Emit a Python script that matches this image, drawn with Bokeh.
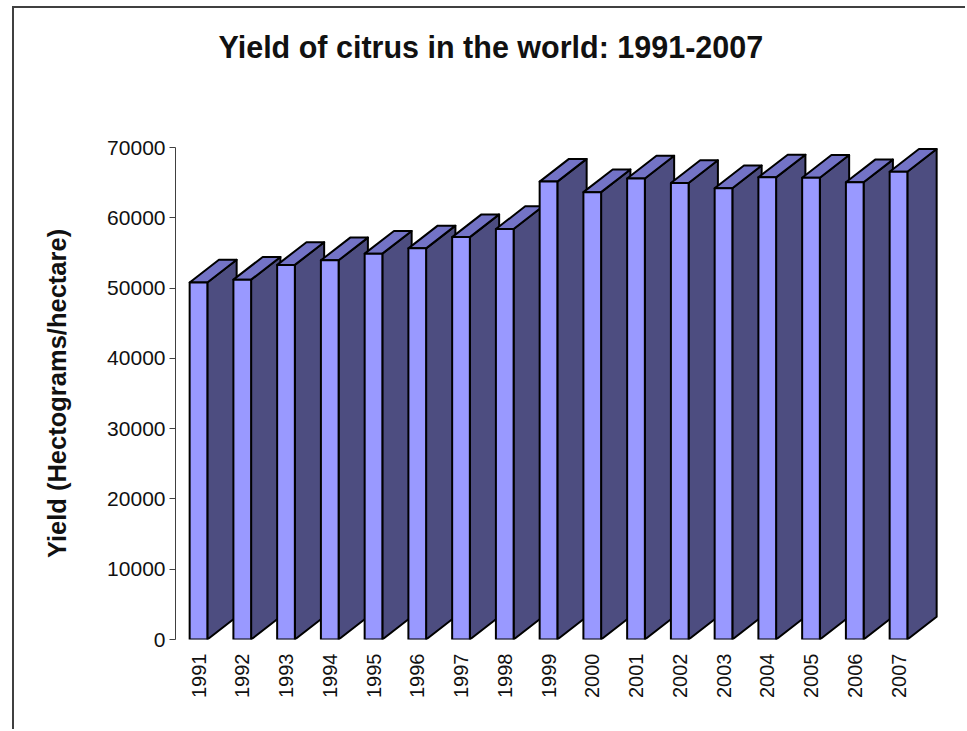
import math
from bokeh.plotting import figure
from bokeh.models import Range1d, FixedTicker, BasicTickFormatter, Title
from bokeh.embed import file_html
from bokeh.resources import INLINE

# ---------------- data ----------------
years = ["1991", "1992", "1993", "1994", "1995", "1996", "1997", "1998", "1999",
         "2000", "2001", "2002", "2003", "2004", "2005", "2006", "2007"]
yields = [50800, 51200, 53300, 53950, 54900, 55650, 57250, 58400, 65150,
          63650, 65600, 64950, 64200, 65750, 65700, 65050, 66550]
y_ticks = [0, 10000, 20000, 30000, 40000, 50000, 60000, 70000]
title_text = "Yield of citrus in the world: 1991-2007"
y_label = "Yield (Hectograms/hectare)"

# ---------------- layout (pixels) ----------------
OFF_L, OFF_T = 12, 6
FIG_W, FIG_H = 967 - OFF_L - 2, 731 - OFF_T - 2
B_LEFT, B_RIGHT, B_TOP, B_BOTTOM = 161, 0, 139, 92
FRAME_W = FIG_W - B_LEFT - B_RIGHT
FRAME_H = FIG_H - B_TOP - B_BOTTOM
PX_PER_CAT = 43.75
PX_PER_Y = FRAME_H / 70000.0
FIRST_CENTER_PX = 23.0

x_start = -FIRST_CENTER_PX / PX_PER_CAT
x_end = x_start + FRAME_W / PX_PER_CAT

HALF_W = 8.85 / PX_PER_CAT
DX = 29.3 / PX_PER_CAT
DY = 22.7 / PX_PER_Y

FRONT = "#9999ff"
SIDE = "#4d4d80"
TOP = "#7373c6"
EDGE = "#000000"

xs = list(range(len(years)))
side_xs, side_ys, top_xs, top_ys = [], [], [], []
lefts, rights = [], []
for x, v in zip(xs, yields):
    x0, x1 = x - HALF_W, x + HALF_W
    lefts.append(x0)
    rights.append(x1)
    side_xs.append([x1, x1 + DX, x1 + DX, x1])
    side_ys.append([0, DY, v + DY, v])
    top_xs.append([x0, x1, x1 + DX, x0 + DX])
    top_ys.append([v, v, v + DY, v + DY])

p = figure(width=FIG_W, height=FIG_H,
           x_range=Range1d(x_start, x_end), y_range=Range1d(0, 70000),
           output_backend="svg", toolbar_location=None,
           min_border_left=B_LEFT, min_border_right=B_RIGHT,
           min_border_top=B_TOP, min_border_bottom=B_BOTTOM)
p.styles = {"margin-left": f"{OFF_L}px", "margin-top": f"{OFF_T}px",
            "border-left": "2px solid #404040", "border-top": "2px solid #404040"}
p.outline_line_color = None
p.xgrid.visible = False
p.ygrid.visible = False
p.background_fill_color = "white"
p.border_fill_color = "white"

# spacer between frame and title (added first -> closest to the frame)
p.add_layout(Title(text=" ", text_font_size="1px", standoff=76), "above")
# real title
p.add_layout(Title(text=title_text, align="left", offset=43, standoff=10,
                   text_font="Liberation Sans", text_font_style="bold",
                   text_font_size="30.5px", text_color="#111111"), "above")

for i in range(len(years)):
    p.patches(xs=[side_xs[i]], ys=[side_ys[i]], fill_color=SIDE, line_color=EDGE, line_width=2, line_join="round")
    p.patches(xs=[top_xs[i]], ys=[top_ys[i]], fill_color=TOP, line_color=EDGE, line_width=2, line_join="round")
    p.quad(left=[lefts[i]], right=[rights[i]], top=[yields[i]], bottom=[0],
           fill_color=FRONT, line_color=EDGE, line_width=2, line_join="round")

# y axis
ya = p.yaxis[0]
ya.ticker = FixedTicker(ticks=y_ticks)
ya.formatter = BasicTickFormatter(use_scientific=False)
ya.bounds = (0, 70000)
ya.axis_line_color = "#404040"
ya.major_tick_line_color = "#404040"
ya.major_tick_out = 6
ya.major_tick_in = 0
ya.minor_tick_line_color = None
ya.major_label_text_font = "Liberation Sans"
ya.major_label_text_font_size = "21px"
ya.major_label_text_color = "#111111"
ya.major_label_standoff = 4
ya.axis_label = y_label
ya.axis_label_text_font = "Liberation Sans"
ya.axis_label_text_font_style = "bold"
ya.axis_label_text_font_size = "25.5px"
ya.axis_label_text_color = "#111111"
ya.axis_label_standoff = 33

# x axis
xa = p.xaxis[0]
xa.ticker = FixedTicker(ticks=xs)
xa.major_label_overrides = {i: y for i, y in zip(xs, years)}
xa.major_label_orientation = math.pi / 2
xa.axis_line_color = None
xa.major_tick_line_color = None
xa.minor_tick_line_color = None
xa.major_tick_out = 0
xa.major_tick_in = 0
xa.major_label_standoff = 14
xa.major_label_text_font = "Liberation Sans"
xa.major_label_text_font_size = "20px"
xa.major_label_text_color = "#111111"

open("out.html", "w").write(file_html(p, INLINE))
